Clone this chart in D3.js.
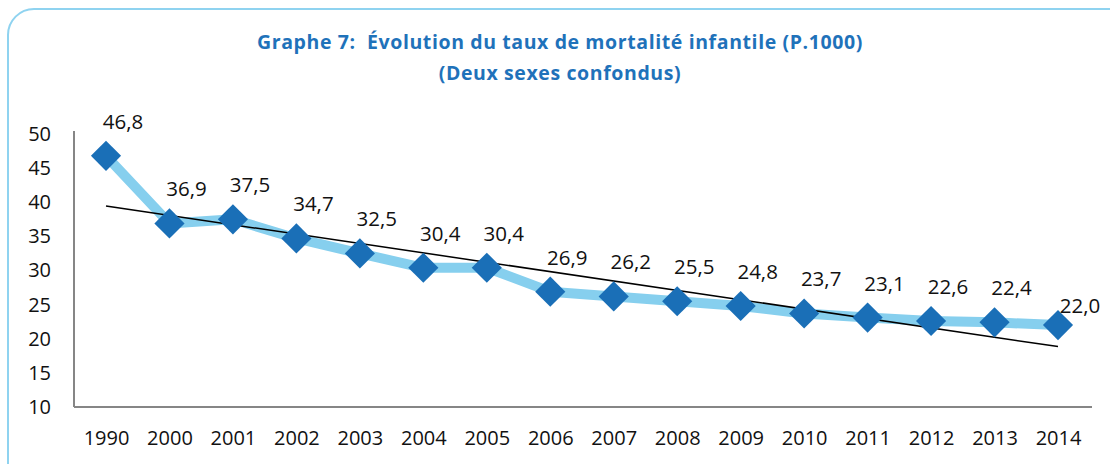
<!DOCTYPE html>
<html>
<head>
<meta charset="utf-8">
<title>Graphe 7</title>
<script src="https://cdn.jsdelivr.net/npm/d3@7/dist/d3.min.js"></script>
<style>
  body { margin: 0; background: #fff; }
  text { font-family: "Open Sans", "DejaVu Sans", sans-serif; }
</style>
</head>
<body>
<div id="chart"></div>
<script>
// data
var years = ["1990","2000","2001","2002","2003","2004","2005","2006","2007","2008","2009","2010","2011","2012","2013","2014"];
var taux = [46.8, 36.9, 37.5, 34.7, 32.5, 30.4, 30.4, 26.9, 26.2, 25.5, 24.8, 23.7, 23.1, 22.6, 22.4, 22.0];
var yTicks = [10, 15, 20, 25, 30, 35, 40, 45, 50];
var titleLines = ["Graphe 7:  Évolution du taux de mortalité infantile (P.1000)", "(Deux sexes confondus)"];

var width = 1110, height = 464;
var m = {left: 74, right: 20, top: 134, bottom: 57};

var svg = d3.select("#chart").append("svg")
  .attr("width", width)
  .attr("height", height);

// rounded frame
svg.append("rect")
  .attr("x", 8).attr("y", 9)
  .attr("width", 1130).attr("height", 480)
  .attr("rx", 26).attr("ry", 26)
  .style("fill", "none")
  .style("stroke", "#8fd3f0")
  .style("stroke-width", 2);

// title
svg.selectAll("text.title").data(titleLines).enter().append("text")
  .attr("class", "title")
  .attr("x", 560)
  .attr("y", function(d, i) { return 49 + i * 31; })
  .attr("text-anchor", "middle")
  .style("font-size", "19.5px")
  .style("font-weight", "bold")
  .style("letter-spacing", "0.6px")
  .style("white-space", "pre")
  .style("fill", "#1f72ba")
  .text(function(d) { return d; });

var x = d3.scalePoint().domain(years)
  .range([m.left + 32, width - m.right - 32]);
var y = d3.scaleLinear().domain([10, 50])
  .range([height - m.bottom, m.top]);

// axes
var yAxis = svg.append("g")
  .attr("transform", "translate(" + m.left + ",0)")
  .call(d3.axisLeft(y).tickValues(yTicks).tickSize(0).tickPadding(23));
yAxis.select(".domain").style("stroke", "#868686").style("stroke-width", 2)
  .attr("d", "M0," + (m.top - 3) + "V" + y(10));
yAxis.selectAll("text").style("font-size", "20px").style("fill", "#111");

var xAxis = svg.append("g")
  .attr("transform", "translate(0," + y(10) + ")")
  .call(d3.axisBottom(x).tickSize(0).tickPadding(24));
xAxis.select(".domain").style("stroke", "#868686").style("stroke-width", 2)
  .attr("d", "M" + m.left + ",0H" + (width - m.right + 2));
xAxis.selectAll("text").style("font-size", "20px").style("fill", "#111");

// series line
var line = d3.line()
  .x(function(d, i) { return x(years[i]); })
  .y(function(d) { return y(d); });

svg.append("path")
  .datum(taux)
  .attr("d", line)
  .style("fill", "none")
  .style("stroke", "#86cfee")
  .style("stroke-width", 10)
  .style("stroke-linejoin", "round");

// linear trend
var n = taux.length;
var mx = d3.mean(taux, function(d, i) { return i; });
var my = d3.mean(taux);
var slope = d3.sum(taux, function(d, i) { return (i - mx) * (d - my); }) /
            d3.sum(taux, function(d, i) { return (i - mx) * (i - mx); });
var icpt = my - slope * mx;

svg.append("line")
  .attr("x1", x(years[0])).attr("y1", y(icpt))
  .attr("x2", x(years[n - 1])).attr("y2", y(icpt + slope * (n - 1)))
  .style("stroke", "#000")
  .style("stroke-width", 1.5);

// markers
svg.selectAll("path.marker").data(taux).enter().append("path")
  .attr("class", "marker")
  .attr("transform", function(d, i) { return "translate(" + x(years[i]) + "," + y(d) + ")"; })
  .attr("d", d3.symbol().type(d3.symbolDiamond2).size(580))
  .style("fill", "#1a6fb7");

// value labels
svg.selectAll("text.lbl").data(taux).enter().append("text")
  .attr("class", "lbl")
  .attr("x", function(d, i) { return x(years[i]) + (i == n - 1 ? 22 : 17); })
  .attr("y", function(d, i) { return y(d) - (i == n - 1 ? 12 : 27); })
  .attr("text-anchor", "middle")
  .style("font-size", "20.5px")
  .style("fill", "#111")
  .text(function(d) { return d.toFixed(1).replace(".", ","); });
</script>
</body>
</html>
